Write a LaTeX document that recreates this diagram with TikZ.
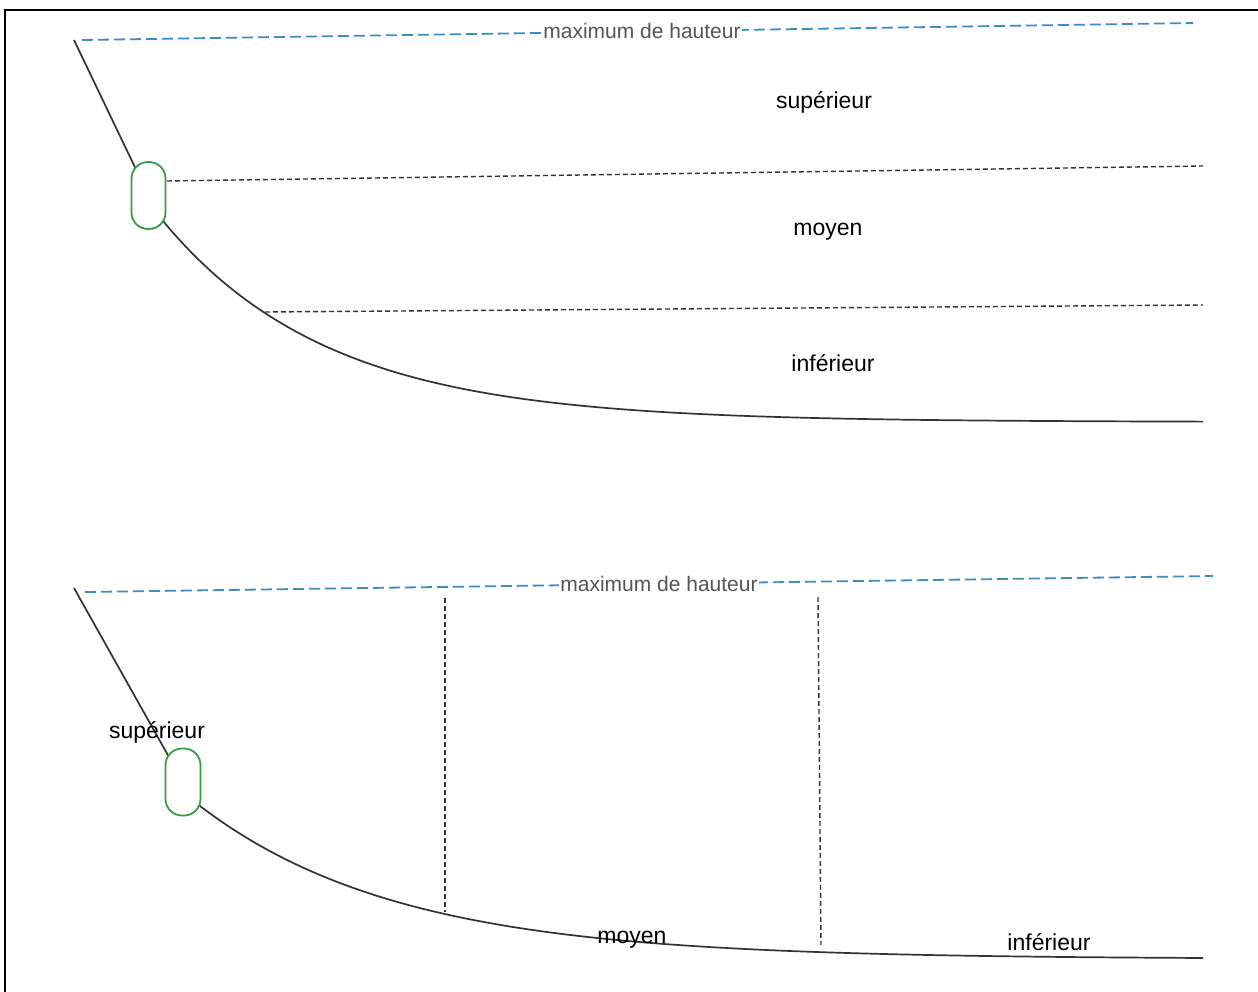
\documentclass[tikz,border=0pt]{standalone}
\usepackage{fontspec}
\setmainfont{Liberation Sans}
\definecolor{maxblue}{RGB}{58,142,192}
\definecolor{gaugegreen}{RGB}{56,156,64}
\definecolor{labelgray}{RGB}{85,85,85}
\begin{document}
\begin{tikzpicture}[x=1pt,y=-1pt,
  frame/.style={draw=black, line width=2pt},
  bank/.style={draw=black!80, line width=1.7pt},
  levelline/.style={draw=black!80, line width=1.4pt, dash pattern=on 5pt off 3pt},
  maxline/.style={draw=maxblue, line width=1.8pt, dash pattern=on 11pt off 5pt},
  gauge/.style={draw=gaugegreen, line width=1.8pt, fill=white, rounded corners=16.5pt,
    minimum width=34pt, minimum height=67pt, inner sep=0pt},
  zone/.style={font=\fontsize{23}{27}\selectfont, text=black, inner sep=1pt},
  maxlabel/.style={font=\fontsize{21}{25}\selectfont, text=labelgray, fill=white, inner sep=1pt}]
\useasboundingbox (0,0) rectangle (1258,992);

% outer frame
\coordinate (fbl) at (5,992);
\coordinate (ftl) at (5,10);
\coordinate (ftr) at (1258,10);
\draw[frame] (fbl) -- (ftl) -- (ftr);

% ---------- upper profile: horizontal zones ----------
\coordinate (ttop) at (74,40);
\coordinate (tc) at (148.5,195.5);
\coordinate (tout) at (163,221);
\draw[bank] (ttop) -- (tc);
% bank profile flattening exponentially towards the bed
\draw[bank] (tc) -- (tout) -- plot[domain=163:1203, samples=120, smooth]
  (\x,{422-201*exp(-(\x-163)/166.5)});
\node[gauge] (tg) at (tc) {};

\coordinate (tm1) at (82,40);
\coordinate (tm2) at (1193,23);
\draw[maxline] (tm1) -- (tm2);
\node[maxlabel] (tmax) at (642,31) {maximum de hauteur};

\coordinate (l1s) at (167,181);
\coordinate (l1e) at (1203,166);
\draw[levelline] (l1s) -- (l1e);
\coordinate (l2s) at (265,312);
\coordinate (l2e) at (1203,305);
\draw[levelline] (l2s) -- (l2e);

\node[zone] (tsup) at (824,102) {supérieur};
\node[zone] (tmoy) at (828,232) {moyen};
\node[zone] (tinf) at (833,363) {inférieur};

% ---------- lower profile: longitudinal zones ----------
\coordinate (btop) at (74,588);
\coordinate (bc) at (183,782);
\coordinate (bout) at (200,806);
\draw[bank] (btop) -- (bc);
\draw[bank] (bc) -- (bout) -- plot[domain=200:1203, samples=120, smooth]
  (\x,{959-153*exp(-(\x-200)/200)});

\coordinate (bm1) at (85,592);
\coordinate (bm2) at (1213,576);
\draw[maxline] (bm1) -- (bm2);
\node[maxlabel] (bmax) at (659,584) {maximum de hauteur};

\coordinate (v1s) at (445,598);
\coordinate (v1e) at (445,912);
\draw[levelline] (v1s) -- (v1e);
\coordinate (v2s) at (818,597);
\coordinate (v2e) at (821,945);
\draw[levelline] (v2s) -- (v2e);

\node[zone] (bsup) at (157,732) {supérieur};
\node[gauge, minimum width=35pt] (bg) at (bc) {};
\node[zone] (bmoy) at (632,940) {moyen};
\node[zone] (binf) at (1049,942) {inférieur};
\end{tikzpicture}
\end{document}
